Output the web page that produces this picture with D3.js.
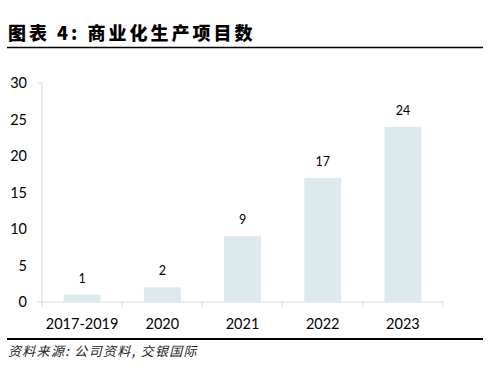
<!DOCTYPE html>
<html>
<head>
<meta charset="utf-8">
<script src="https://cdn.jsdelivr.net/npm/d3@7"></script>
<style>
  body { margin: 0; background: #fff; }
  svg { display: block; }
</style>
</head>
<body>
<svg width="488" height="373"></svg>
<script>
var categories = ["2017-2019", "2020", "2021", "2022", "2023"];
var values = [1, 2, 9, 17, 24];
var yTicks = [0, 5, 10, 15, 20, 25, 30];

var svg = d3.select("svg"),
    plotLeft = 42, plotRight = 443, plotTop = 83, plotBottom = 302;

var font = "Lato, 'Open Sans', 'Liberation Sans', sans-serif";
var cjk = "'Noto Sans CJK SC', sans-serif";

// title
svg.append("text")
    .attr("x", 8).attr("y", 40)
    .style("font-family", cjk)
    .style("font-size", "18px")
    .style("font-weight", "900")
    .style("letter-spacing", "3px")
    .attr("fill", "#000")
    .text("图表 4: 商业化生产项目数");

svg.append("line")
    .attr("x1", 7).attr("x2", 483)
    .attr("y1", 47.5).attr("y2", 47.5)
    .attr("stroke", "#000").attr("stroke-width", 1.5);

var x = d3.scaleBand().domain(categories).range([plotLeft, plotRight]).paddingInner(0.54).paddingOuter(0.27);
var y = d3.scaleLinear().domain([0, 30]).range([plotBottom, plotTop]);

// y axis (Excel style: only a short tick at top)
var gy = svg.append("g").attr("transform", "translate(" + plotLeft + ",0)")
    .call(d3.axisLeft(y).tickValues(yTicks).tickSize(0).tickPadding(15));
gy.select(".domain").attr("stroke", "#d9d9d9").attr("d", "M-4," + plotTop + "H0V" + plotBottom);
gy.selectAll(".tick text").style("font-family", font).style("font-size", "14.5px").attr("fill", "#000");

// x axis
var gx = svg.append("g").attr("transform", "translate(0," + plotBottom + ")");
gx.append("line").attr("x1", plotLeft - 5).attr("x2", plotRight).attr("stroke", "#d9d9d9");
var step = (plotRight - plotLeft) / categories.length;
gx.selectAll(".sep").data(d3.range(categories.length + 1)).enter().append("line")
    .attr("x1", function (i) { return plotLeft + i * step; })
    .attr("x2", function (i) { return plotLeft + i * step; })
    .attr("y1", 0).attr("y2", 5)
    .attr("stroke", "#d9d9d9");
gx.selectAll(".lab").data(categories).enter().append("text")
    .attr("x", function (d) { return x(d) + x.bandwidth() / 2; })
    .attr("y", 27)
    .attr("text-anchor", "middle")
    .style("font-family", font).style("font-size", "14.5px")
    .attr("fill", "#000")
    .text(function (d) { return d; });

// bars
svg.selectAll(".bar").data(values).enter().append("rect")
    .attr("x", function (d, i) { return x(categories[i]); })
    .attr("y", function (d) { return y(d); })
    .attr("width", x.bandwidth())
    .attr("height", function (d) { return plotBottom - y(d); })
    .attr("fill", "#dce9ed");

svg.selectAll(".val").data(values).enter().append("text")
    .attr("x", function (d, i) { return x(categories[i]) + x.bandwidth() / 2; })
    .attr("y", function (d) { return y(d) - 12; })
    .attr("text-anchor", "middle")
    .style("font-family", font).style("font-size", "12.5px")
    .attr("fill", "#000")
    .text(function (d) { return d; });

// footer
svg.append("line")
    .attr("x1", 7).attr("x2", 483)
    .attr("y1", 339).attr("y2", 339)
    .attr("stroke", "#000").attr("stroke-width", 2);

svg.append("text")
    .attr("x", 8).attr("y", 356)
    .style("font-family", cjk)
    .style("font-size", "13px")
    .style("font-style", "italic")
    .style("letter-spacing", "1.3px")
    .attr("fill", "#222")
    .text("资料来源: 公司资料, 交银国际");
</script>
</body>
</html>
